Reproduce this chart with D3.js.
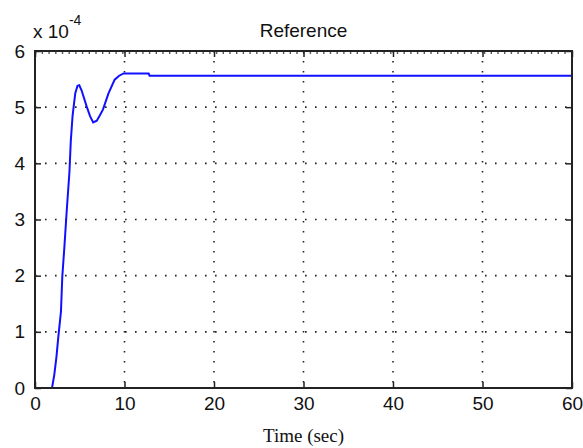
<!DOCTYPE html>
<html>
<head>
<meta charset="utf-8">
<script src="https://cdn.jsdelivr.net/npm/d3@7"></script>
<style>
  body { margin: 0; background: #fff; }
  text { fill: #111; }
</style>
</head>
<body>
<div id="chart"></div>
<script>
// step response, values x 1e-4

const timeSec = [0, 1.9, 2.15, 2.4, 2.6, 2.9, 3.05, 3.3, 3.55, 3.85, 4.0, 4.2, 4.5, 4.75, 4.95,
                 5.2, 5.5, 5.8, 6.15, 6.5, 6.9, 7.3, 7.6, 8.2, 8.9, 9.4, 9.9, 12.7, 12.8, 60]
const response = [0, 0, 0.23, 0.56, 0.9, 1.36, 1.98, 2.55, 3.17, 3.85, 4.4, 4.85, 5.25, 5.38, 5.39,
                  5.3, 5.15, 5.0, 4.84, 4.73, 4.76, 4.87, 4.96, 5.24, 5.49, 5.56, 5.6, 5.6, 5.56, 5.56]
const xTicks = [0, 10, 20, 30, 40, 50, 60]
const yTicks = [0, 1, 2, 3, 4, 5, 6]

const W = 583, H = 448
const MARGIN = {LEFT:35, RIGHT:11, TOP:51, BOTTOM:60}
const WIDTH = W - MARGIN.LEFT - MARGIN.RIGHT
const HEIGHT = H - MARGIN.TOP - MARGIN.BOTTOM
const SANS = "Liberation Sans, Arial, sans-serif"

const svg = d3.select("#chart").append("svg")
    .attr("width", W)
    .attr("height", H)

const g = svg.append("g")
    .attr("transform", `translate(${MARGIN.LEFT}, ${MARGIN.TOP})`)

const x = d3.scaleLinear().domain([0, 60]).range([0, WIDTH])
const y = d3.scaleLinear().domain([0, 6]).range([HEIGHT, 0])

// dotted grid
g.selectAll(".vgrid").data(xTicks.slice(1, -1)).enter().append("line")
    .attr("x1", d => x(d)).attr("x2", d => x(d))
    .attr("y1", 0).attr("y2", HEIGHT)
    .attr("stroke", "#222").attr("stroke-width", 1.6)
    .attr("stroke-dasharray", "1.6,8.4")
g.selectAll(".hgrid").data(yTicks.slice(1, -1)).enter().append("line")
    .attr("y1", d => y(d)).attr("y2", d => y(d))
    .attr("x1", 0).attr("x2", WIDTH)
    .attr("stroke", "#222").attr("stroke-width", 1.6)
    .attr("stroke-dasharray", "1.6,8.4")
// top grid row sits just under the box edge
g.append("line")
    .attr("x1", 0).attr("x2", WIDTH)
    .attr("y1", y(6) + 2).attr("y2", y(6) + 2)
    .attr("stroke", "#222").attr("stroke-width", 1.4)
    .attr("stroke-dasharray", "1.4,5.3")

// axes (ticks inside)
const xAxisCall = d3.axisBottom(x).tickValues(xTicks).tickSizeInner(-6).tickSizeOuter(0).tickPadding(9)
g.append("g")
    .attr("transform", `translate(0, ${HEIGHT})`)
    .call(xAxisCall)
    .call(a => a.select(".domain").remove())
    .selectAll("text")
      .attr("font-family", SANS)
      .attr("font-size", "19px")

g.append("g")
    .call(d3.axisTop(x).tickValues(xTicks).tickSizeInner(-6).tickSizeOuter(0).tickFormat(""))
    .call(a => a.select(".domain").remove())

const yAxisCall = d3.axisLeft(y).tickValues(yTicks).tickSizeInner(-6).tickSizeOuter(0)
    .tickPadding(10).tickFormat(d3.format("d"))
g.append("g")
    .call(yAxisCall)
    .call(a => a.select(".domain").remove())
    .selectAll("text")
      .attr("font-family", SANS)
      .attr("font-size", "19px")

g.append("g")
    .attr("transform", `translate(${WIDTH}, 0)`)
    .call(d3.axisRight(y).tickValues(yTicks).tickSizeInner(-6).tickSizeOuter(0).tickFormat(""))
    .call(a => a.select(".domain").remove())

g.selectAll(".tick line").attr("stroke", "#222").attr("stroke-width", 1.5)

// the curve
const line = d3.line()
    .x((d, i) => x(timeSec[i]))
    .y(d => y(d))

g.append("path")
    .datum(response)
    .attr("d", line)
    .attr("fill", "none")
    .attr("stroke", "#1010ff")
    .attr("stroke-width", 2)

// box
g.append("rect")
    .attr("width", WIDTH).attr("height", HEIGHT)
    .attr("fill", "none")
    .attr("stroke", "#222").attr("stroke-width", 2)

// title and labels
svg.append("text")
    .attr("x", MARGIN.LEFT + WIDTH/2)
    .attr("y", 37)
    .attr("text-anchor", "middle")
    .attr("font-family", SANS)
    .attr("font-size", "19px")
    .text("Reference")

svg.append("text")
    .attr("x", MARGIN.LEFT + WIDTH/2)
    .attr("y", 442)
    .attr("text-anchor", "middle")
    .attr("font-family", "Liberation Serif, Times New Roman, serif")
    .attr("font-size", "19px")
    .text("Time (sec)")

const exp = svg.append("text")
    .attr("x", 33)
    .attr("y", 38)
    .attr("font-family", SANS)
    .attr("font-size", "19px")
exp.append("tspan").text("x 10")
exp.append("tspan").attr("dy", -13).attr("font-size", "14px").text("-4")
</script>
</body>
</html>
